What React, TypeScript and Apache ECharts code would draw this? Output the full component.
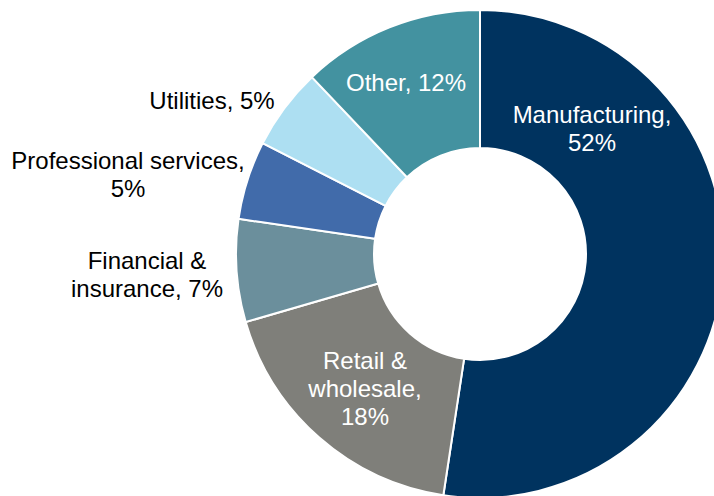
import React, { useEffect, useRef } from "react";
import * as echarts from "echarts";

const categories = [
  "Manufacturing",
  "Retail & wholesale",
  "Financial & insurance",
  "Professional services",
  "Utilities",
  "Other",
];
// shares (labels show rounded values)
const shares = [52.4, 18.1, 6.8, 5.2, 5.4, 12.1];
const labelTexts = [
  "Manufacturing,\n52%",
  "Retail &\nwholesale,\n18%",
  "Financial &\ninsurance, 7%",
  "Professional services,\n5%",
  "Utilities, 5%",
  "Other, 12%",
];
const colors = ["#00335F", "#7F7F7A", "#6B8F9C", "#416BAA", "#ADDFF2", "#4392A0"];
const labelColors = ["#FFFFFF", "#FFFFFF", "#000000", "#000000", "#000000", "#FFFFFF"];
const labelCenters: number[][] = [
  [592, 128],
  [365, 388],
  [147, 274],
  [128, 174],
  [212, 100],
  [406, 82],
];

export default function App() {
  const ref = useRef<HTMLDivElement>(null);
  useEffect(() => {
    if (!ref.current) return;
    const chart = echarts.init(ref.current, null, { renderer: "svg" });
    chart.setOption({
      animation: false,
      backgroundColor: "#FFFFFF",
      series: [
        {
          type: "pie",
          center: [480, 254],
          radius: [106, 244],
          startAngle: 90,
          clockwise: true,
          avoidLabelOverlap: false,
          itemStyle: { borderColor: "#FFFFFF", borderWidth: 2 },
          label: {
            show: true,
            position: "inside",
            fontFamily: "'Liberation Sans', Arial, sans-serif",
            fontSize: 24,
            lineHeight: 28,
            align: "center",
            formatter: (p: any) => labelTexts[p.dataIndex],
          },
          labelLine: { show: false },
          labelLayout: (p: any) => ({
            x: labelCenters[p.dataIndex][0],
            y: labelCenters[p.dataIndex][1],
            align: "center",
            verticalAlign: "middle",
          }),
          emphasis: { disabled: true },
          data: categories.map((name, i) => ({
            name,
            value: shares[i],
            itemStyle: { color: colors[i] },
            label: { color: labelColors[i] },
          })),
        },
      ],
    });
    return () => chart.dispose();
  }, []);
  return (
    <div
      ref={ref}
      style={{ position: "fixed", left: 0, top: 0, width: 714, height: 496 }}
    />
  );
}
